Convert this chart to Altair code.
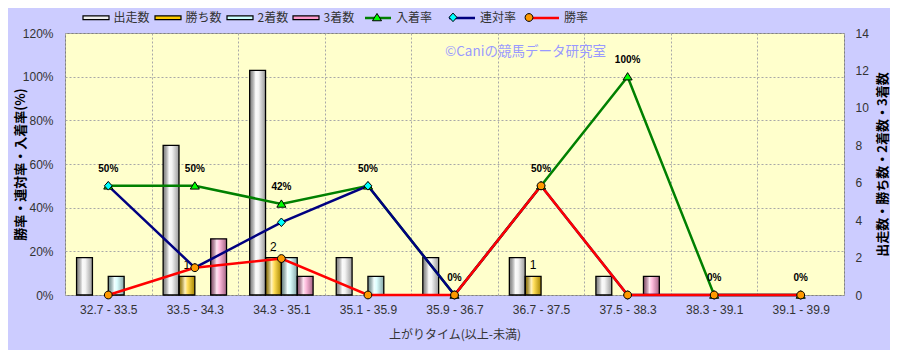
import altair as alt
import pandas as pd

# ---------------- data ----------------
cats = ["32.7 - 33.5", "33.5 - 34.3", "34.3 - 35.1", "35.1 - 35.9", "35.9 - 36.7",
        "36.7 - 37.5", "37.5 - 38.3", "38.3 - 39.1", "39.1 - 39.9"]
starts = [2, 8, 12, 2, 2, 2, 1, 0, 0]
wins = [0, 1, 2, 0, 0, 1, 0, 0, 0]
seconds = [1, 0, 2, 1, 0, 0, 0, 0, 0]
thirds = [0, 3, 1, 0, 0, 0, 1, 0, 0]
place_rate = [0.50, 0.50, 0.417, 0.50, 0.0, 0.50, 1.00, 0.0, 0.0]
rentai_rate = [0.50, 0.125, 0.333, 0.50, 0.0, 0.50, 0.0, 0.0, 0.0]
win_rate = [0.0, 0.125, 0.167, 0.0, 0.0, 0.50, 0.0, 0.0, 0.0]

bar_series = ["出走数", "勝ち数", "2着数", "3着数"]
bar_colors = ["#EEEEEE", "#FFCC00", "#CCFFFF", "#FF99CC"]
rate_series = ["入着率", "連対率", "勝率"]
line_colors = ["#008000", "#000080", "#FF0000"]
marker_fills = ["#00FF00", "#00FFFF", "#FF9900"]
# marker outlines (custom symbol paths, unit frame)
marker_shapes = [
    "M0,-0.62L0.7,0.5L-0.7,0.5Z",
    "M0,-0.66L0.6,0L0,0.66L-0.6,0Z",
    "M-0.6,0A0.6,0.6 0 1,0 0.6,0A0.6,0.6 0 1,0 -0.6,0Z",
]
watermark = "©Caniの競馬データ研究室"

# ---------------- tables ----------------
bar_rows = []
for s, vals in zip(bar_series, [starts, wins, seconds, thirds]):
    for c, v in zip(cats, vals):
        bar_rows.append({"cat": c, "series": s, "value": v})
bars_df = pd.DataFrame(bar_rows)
bars_df = bars_df[bars_df["value"] > 0]
wins_df = bars_df[bars_df["series"] == "勝ち数"]

rate_rows = []
for s, vals in zip(rate_series, [place_rate, rentai_rate, win_rate]):
    for c, v in zip(cats, vals):
        rate_rows.append({"cat": c, "series": s, "series2": s, "rate": v})
rates_df = pd.DataFrame(rate_rows)
place_df = rates_df[rates_df["series"] == "入着率"]

JP = "Noto Sans CJK JP"
LBL = "#333333"

x_enc = alt.X(
    "cat:N",
    scale=alt.Scale(domain=cats, paddingInner=0, paddingOuter=0),
    axis=alt.Axis(
        title="上がりタイム(以上-未満)", labelAngle=0, tickBand="extent",
        grid=True, gridDash=[2, 2], gridColor="#A8A8A8", ticks=False, domain=False,
        labelPadding=9, labelFontSize=12, labelColor=LBL, labelFont="Liberation Sans",
        titleFont=JP, titleFontSize=12, titleFontWeight="normal", titleColor=LBL,
        titleX=389.5, titleY=39, titleBaseline="middle", titleAlign="center",
    ),
)
xoff_enc = alt.XOffset("series:N", scale=alt.Scale(domain=bar_series, paddingInner=0, paddingOuter=0.73))
y_count = alt.Y(
    "value:Q",
    scale=alt.Scale(domain=[0, 14], nice=False),
    axis=alt.Axis(
        orient="right", values=list(range(0, 15, 2)), grid=False, ticks=False, domain=False,
        labelPadding=11, labelFontSize=12, labelColor=LBL, labelFont="Liberation Sans",
        title="出走数・勝ち数・2着数・3着数", titleFont=JP, titleFontSize=13, titleFontWeight="bold",
        titleColor="#000000", titleAngle=270, titleX=38, titleY=131,
        titleBaseline="middle", titleAlign="center",
    ),
)
y_rate = alt.Y(
    "rate:Q",
    scale=alt.Scale(domain=[0, 1.2], nice=False),
    axis=alt.Axis(
        orient="left", format=".0%", values=[0, 0.2, 0.4, 0.6, 0.8, 1.0, 1.2],
        grid=True, gridDash=[2, 2], gridColor="#A8A8A8", ticks=False, domain=False,
        labelPadding=12, labelFontSize=12, labelColor=LBL, labelFont="Liberation Sans",
        title="勝率・連対率・入着率(%)", titleFont=JP, titleFontSize=13, titleFontWeight="bold",
        titleColor="#000000", titleAngle=270, titleX=-45, titleY=131,
        titleBaseline="middle", titleAlign="center",
    ),
)

shine = alt.LinearGradient(
    gradient="linear", x1=0, x2=1, y1=0, y2=0,
    stops=[
        alt.GradientStop(color="rgba(0,0,0,0.45)", offset=0),
        alt.GradientStop(color="rgba(255,255,255,0.75)", offset=0.38),
        alt.GradientStop(color="rgba(255,255,255,0.35)", offset=0.55),
        alt.GradientStop(color="rgba(0,0,0,0.35)", offset=1),
    ],
)

bars = alt.Chart(bars_df).mark_bar(strokeWidth=0).encode(
    x=x_enc, xOffset=xoff_enc, y=y_count,
    fill=alt.Fill(
        "series:N", scale=alt.Scale(domain=bar_series, range=bar_colors),
        legend=alt.Legend(
            orient="none", legendX=23.5, legendY=-23, direction="horizontal", title=None,
            symbolType="M-2,-0.28L2,-0.28L2,0.28L-2,0.28Z", symbolSize=169,
            symbolStrokeColor="#000000", symbolStrokeWidth=1.2, symbolOpacity=1,
            labelOffset=10, columnPadding=2, labelFont=JP, labelFontSize=12, labelColor=LBL,
        ),
    ),
)
bars_shine = alt.Chart(bars_df).mark_bar(fill=shine, stroke="#000000", strokeWidth=1.3).encode(
    x=x_enc, xOffset=xoff_enc, y=y_count,
)
win_labels = alt.Chart(wins_df).mark_text(dy=-11, fontSize=12, font="Liberation Sans", color="#000000").encode(
    x=x_enc, xOffset=xoff_enc, y=y_count, text="value:Q",
)
counts = alt.layer(bars, bars_shine, win_labels)

LEG_X, LEG_Y, LEG_PAD = 305, -23, 11
lines = alt.Chart(rates_df).mark_line(strokeWidth=2.5).encode(
    x=x_enc, y=y_rate,
    stroke=alt.Stroke(
        "series:N", sort=rate_series, scale=alt.Scale(range=line_colors),
        legend=alt.Legend(
            orient="none", legendX=LEG_X, legendY=LEG_Y, direction="horizontal", title=None,
            symbolType="M-2,0L2,0", symbolSize=169, symbolStrokeWidth=2.5, zindex=1,
            labelOffset=10, columnPadding=LEG_PAD, labelFont=JP, labelFontSize=12, labelColor=LBL,
        ),
    ),
)
shape_sig = (
    f"datum.value === '{rate_series[0]}' ? '{marker_shapes[0]}' : "
    f"datum.value === '{rate_series[1]}' ? '{marker_shapes[1]}' : '{marker_shapes[2]}'"
)
legend_m = alt.Legend(
    orient="none", legendX=LEG_X, legendY=LEG_Y, direction="horizontal", title=None,
    symbolType={"expr": shape_sig},
    symbolSize=169, symbolStrokeColor="#000000", symbolStrokeWidth=1, zindex=2, symbolOpacity=1,
    labelOffset=10, columnPadding=52, labelExpr="''", labelFontSize=12,
)
points = alt.Chart(rates_df).mark_point(filled=True, size=169, stroke="#000000", strokeWidth=1, opacity=1).encode(
    x=x_enc, y=y_rate,
    fill=alt.Fill("series2:N", sort=rate_series, scale=alt.Scale(range=marker_fills), legend=legend_m),
    shape=alt.Shape("series2:N", sort=rate_series, scale=alt.Scale(range=marker_shapes), legend=None),
)
rate_labels = alt.Chart(place_df).mark_text(
    dy=-17, fontSize=10, fontWeight="bold", font="Liberation Sans", color="#000000"
).encode(x=x_enc, y=y_rate, text=alt.Text("rate:Q", format=".0%"))
wm = alt.Chart(pd.DataFrame({"t": [watermark]})).mark_text(
    align="left", baseline="middle", fontSize=13.5, font=JP, color="#9999FF"
).encode(x=alt.value(380), y=alt.value(19), text="t:N")
rates = alt.layer(wm, lines, points, rate_labels)

chart = (
    alt.layer(counts, rates)
    .resolve_scale(y="independent", fill="independent", shape="independent")
    .properties(
        width=779, height=262,
        autosize=alt.AutoSizeParams(type="none"),
        padding={"left": 57, "top": 25, "right": 46, "bottom": 55},
        background="#CCCCFF",
    )
    .configure_view(fill="#FFFFCC", stroke="#808080", strokeWidth=1)
)

chart.save("out.html", embed_options={"renderer": "svg", "actions": False})
